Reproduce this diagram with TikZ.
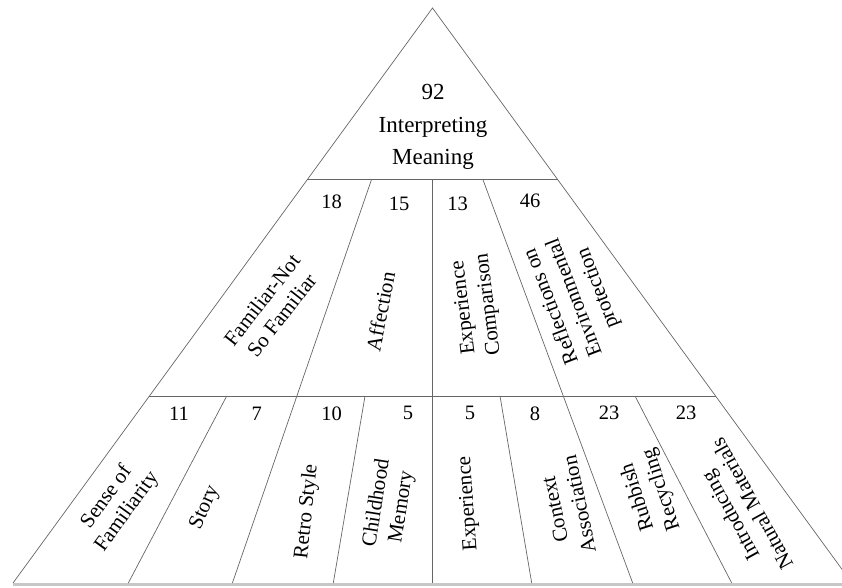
\documentclass[tikz,border=0pt]{standalone}
\usepackage{fontspec}
\setmainfont{Liberation Serif}
\begin{document}
\begin{tikzpicture}[x=1pt,y=-1pt,
  edge/.style={draw=black!60, line width=0.7pt},
  base/.style={draw=black!22, line width=3pt},
  lbl/.style={font=\fontsize{21}{25}\selectfont, align=center, inner sep=0pt},
  num/.style={font=\fontsize{20.5}{24}\selectfont, inner sep=0pt},
  head/.style={font=\fontsize{23}{32.5}\selectfont, align=center, inner sep=0pt}]
\useasboundingbox (0,0) rectangle (842,587);
\clip (0,0) rectangle (842,587);

% outline of the pyramid
\coordinate (apex) at (432.5,8);
\coordinate (bl) at (13,583);
\coordinate (br) at (852,583);
\coordinate (t1l) at (307.4,179);
\coordinate (t1r) at (557.6,179);
\coordinate (t2l) at (149.3,396);
\coordinate (t2r) at (715.7,396);

% tier dividers
\coordinate (a1) at (371.7,179);  \coordinate (a2) at (232.4,583);
\coordinate (v1) at (432.7,179);  \coordinate (v2) at (432.7,583);
\coordinate (c1) at (482.7,179);  \coordinate (c2) at (632.7,583);
\coordinate (d1) at (226.7,396);  \coordinate (d1b) at (128.3,583);
\coordinate (d3) at (365,396);    \coordinate (d3b) at (333.3,583);
\coordinate (d5) at (500,396);    \coordinate (d5b) at (531.7,583);
\coordinate (d6) at (635,396);    \coordinate (d6b) at (731.7,583);

\draw[base] (13,584.5) -- (842,584.5);
\draw[edge] (bl) -- (apex) -- (br);
\draw[edge] (t1l) -- (t1r);
\draw[edge] (t2l) -- (t2r);
\draw[edge] (a1) -- (a2);
\draw[edge] (v1) -- (v2);
\draw[edge] (c1) -- (c2);
\draw[edge] (d1) -- (d1b);
\draw[edge] (d3) -- (d3b);
\draw[edge] (d5) -- (d5b);
\draw[edge] (d6) -- (d6b);

% top tier
\node[head] (top) at (433,127) {92\\Interpreting\\Meaning};

% middle tier
\node[num] (n18) at (331.7,201.7) {18};
\node[num] (n15) at (399,203.5) {15};
\node[num] (n13) at (457.7,203.5) {13};
\node[num] (n46) at (530,201) {46};
\node[lbl, rotate=52]  (fam)  at (271.7,307.5) {Familiar-Not\\So Familiar};
\node[lbl, rotate=79]  (aff)  at (380.5,311.5) {Affection};
\node[lbl, rotate=97]  (exc)  at (476.5,306)   {Experience\\Comparison};
\node[lbl, rotate=111] (ref)  at (575,297)     {Reflections on\\Environmental\\protection};

% bottom tier
\node[num] (b11) at (179,413.3) {11};
\node[num] (b7)  at (256.7,413.3) {7};
\node[num] (b10) at (331.7,413.3) {10};
\node[num] (b5a) at (408,413.3) {5};
\node[num] (b5b) at (470,413.3) {5};
\node[num] (b8)  at (535,413.3) {8};
\node[num] (b23a) at (609,413.3) {23};
\node[num] (b23b) at (686,413.3) {23};
\node[lbl, rotate=54]  (sen) at (117,504.5) {Sense of\\Familiarity};
\node[lbl, rotate=66]  (sto) at (205,507.5) {Story};
\node[lbl, rotate=84]  (ret) at (307,511.5) {Retro Style};
\node[lbl, rotate=81]  (chi) at (389.5,505) {Childhood\\Memory};
\node[lbl, rotate=94]  (exp) at (468.5,503.5) {Experience};
\node[lbl, rotate=102] (con) at (567,507) {Context\\Association};
\node[lbl, rotate=108] (rub) at (650,493) {Rubbish\\Recycling};
\node[lbl, rotate=119] (nat) at (741,510) {Introducing\\Natural Materials};
\end{tikzpicture}
\end{document}
